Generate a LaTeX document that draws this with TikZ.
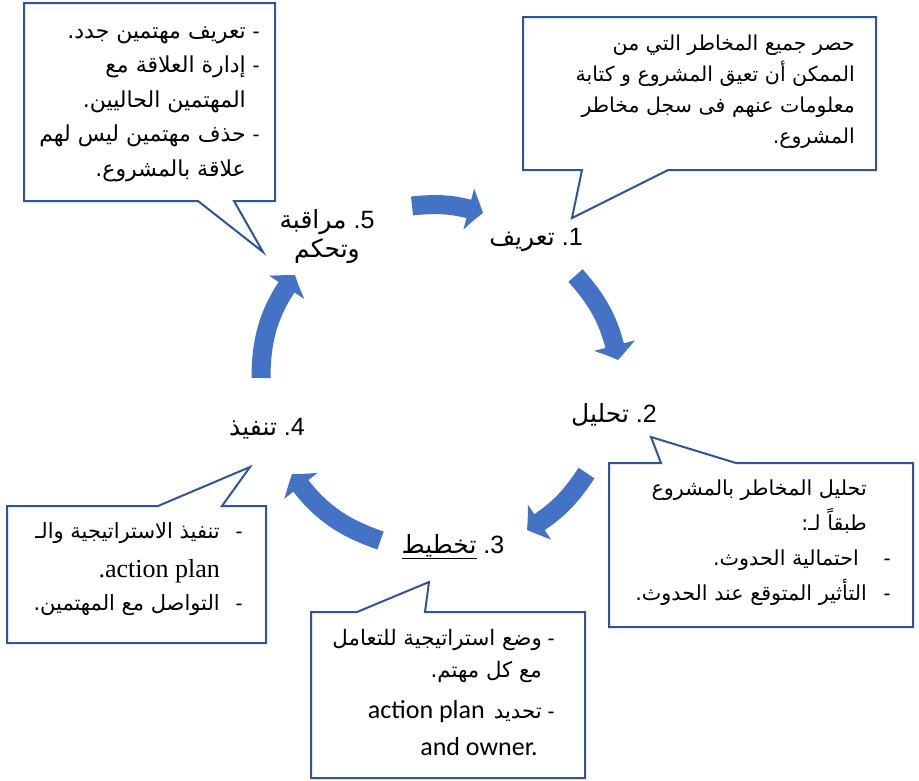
\documentclass[tikz,border=0pt]{standalone}
\usepackage{fontspec}
\setmainfont{Liberation Sans}
\newfontfamily\arabicfont[Script=Arabic]{DejaVu Sans}
\newfontfamily\calibrifont{Carlito}
\newfontfamily\seriffont{Liberation Serif}
\TeXXeTstate=1
\usetikzlibrary{arrows.meta,bending}
\definecolor{cyclefill}{RGB}{68,114,196}
\definecolor{calloutline}{RGB}{47,85,151}

\begin{document}
\begin{tikzpicture}[x=1pt,y=1pt,
  callout/.style={draw=calloutline, line width=2pt, fill=white, line join=miter},
  cyclearrow/.style={draw=cyclefill, line width=19pt, -{Triangle[length=15pt,width=41pt,bend]}},
  ctext/.style={inner sep=0pt, anchor=base east, font=\fontsize{#1}{#1}\selectfont\arabicfont},
  ctext/.default=21,
  dashmark/.style={inner sep=0pt, anchor=base, font=\fontsize{21}{24}\selectfont},
  steplabel/.style={inner sep=0pt, anchor=base, font=\fontsize{25}{29}\selectfont}
]
\useasboundingbox (0,0) rectangle (919,-780);

% ---- speech-bubble callouts ----
\draw[callout] (24,-3) -- (275,-3) -- (275,-201) -- (234,-201) -- (263,-252)
  -- (198,-201) -- (24,-201) -- cycle;
\draw[callout] (523,-17) -- (876,-17) -- (876,-170) -- (668,-170) -- (572,-218)
  -- (582,-170) -- (523,-170) -- cycle;
\draw[callout] (609,-463) -- (661,-463) -- (651,-437) -- (736,-463) -- (913,-463)
  -- (913,-627) -- (609,-627) -- cycle;
\draw[callout] (311,-612) -- (357,-612) -- (429,-582) -- (425,-612) -- (585,-612)
  -- (585,-778) -- (311,-778) -- cycle;
\draw[callout] (7,-506) -- (158,-506) -- (250,-467) -- (222,-506) -- (266,-506)
  -- (266,-643) -- (7,-643) -- cycle;

% ---- callout texts: monitoring and control ----
\node[dashmark] (d5a) at (256,-38) {-};
\node[ctext=22] (t5a) at (246,-38) {\beginR تعريف مهتمين جدد\hbox{.}\endR};
\node[dashmark] (d5b) at (256,-72.5) {-};
\node[ctext=22] (t5b) at (246,-72.5) {\beginR إدارة العلاقة مع\endR};
\node[ctext=22] (t5c) at (246,-107) {\beginR المهتمين الحاليين\hbox{.}\endR};
\node[dashmark] (d5d) at (256,-141.5) {-};
\node[ctext=22] (t5d) at (246,-141.5) {\beginR حذف مهتمين ليس لهم\endR};
\node[ctext=22] (t5e) at (246,-176) {\beginR علاقة بالمشروع\hbox{.}\endR};

% ---- identification ----
\node[ctext=20.5] (t1a) at (855,-50) {\beginR حصر جميع المخاطر التي من\endR};
\node[ctext=20.5] (t1b) at (855,-81) {\beginR الممكن أن تعيق المشروع و كتابة\endR};
\node[ctext=20.5] (t1c) at (855,-112) {\beginR معلومات عنهم فى سجل مخاطر\endR};
\node[ctext=20.5] (t1d) at (855,-143) {\beginR المشروع\hbox{.}\endR};

% ---- analysis ----
\node[ctext=20.7] (t2a) at (867,-495) {\beginR تحليل المخاطر بالمشروع\endR};
\node[ctext=20.7] (t2b) at (867,-530) {\beginR طبقاً لـ\hbox{:}\endR};
\node[dashmark] (d2c) at (887,-565) {-};
\node[ctext=20.7] (t2c) at (859,-565) {\beginR احتمالية الحدوث\hbox{.}\endR};
\node[dashmark] (d2d) at (887,-600) {-};
\node[ctext=20.7] (t2d) at (867,-600) {\beginR التأثير المتوقع عند الحدوث\hbox{.}\endR};

% ---- planning ----
\node[dashmark] (d3a) at (551,-645) {-};
\node[ctext=21.3] (t3a) at (542,-645) {\beginR وضع استراتيجية للتعامل\endR};
\node[ctext=21.3] (t3b) at (542,-677) {\beginR مع كل مهتم\hbox{.}\endR};
\node[dashmark] (d3c) at (551,-718) {-};
\node[ctext=21.3] (t3c) at (542,-718) {{\calibrifont\fontsize{26}{30}\selectfont action plan}\hspace{9pt}تحديد};
\node[ctext, font=\fontsize{26}{30}\selectfont\calibrifont] (t3d) at (538,-755) {and owner.};

% ---- implementation ----
\node[dashmark] (d4a) at (239,-538) {-};
\node[ctext] (t4a) at (220,-538) {\beginR تنفيذ الاستراتيجية والـ\endR};
\node[ctext, font=\fontsize{26}{30}\selectfont\seriffont] (t4b) at (220,-577) {.action plan};
\node[dashmark] (d4c) at (239,-610) {-};
\node[ctext] (t4c) at (220,-610) {\beginR التواصل مع المهتمين\hbox{.}\endR};

% ---- cycle step labels ----
\node[steplabel] (s1) at (536,-245) {{\arabicfont تعريف} .1};
\node[steplabel] (s5) at (327,-228) {{\arabicfont مراقبة} .5};
\node[steplabel] (s5b) at (327,-257) {\arabicfont وتحكم};
\node[steplabel] (s2) at (614,-422) {{\arabicfont تحليل} .2};
\node[steplabel] (s4) at (267,-435) {{\arabicfont تنفيذ} .4};
\node[steplabel] (s3) at (453,-553) {\underline{\arabicfont تخطيط} .3};

% ---- curved cycle arrows ----
\coordinate (a51s) at (412,-206);   \coordinate (a51e) at (483,-213);
\coordinate (a12s) at (575.5,-275.5); \coordinate (a12e) at (618,-360);
\coordinate (a23s) at (586.5,-473); \coordinate (a23e) at (527,-530);
\coordinate (a34s) at (380.5,-540.5); \coordinate (a34e) at (292,-474);
\coordinate (a45s) at (261,-378);   \coordinate (a45e) at (295,-275);

\draw[cyclearrow] (a51s) to[bend left=12] (a51e);
\draw[cyclearrow] (a12s) to[bend left=15] (a12e);
\draw[cyclearrow] (a23s) to[bend left=13] (a23e);
\draw[cyclearrow] (a34s) to[bend left=18] (a34e);
\draw[cyclearrow] (a45s) to[bend left=18] (a45e);
\end{tikzpicture}
\end{document}
